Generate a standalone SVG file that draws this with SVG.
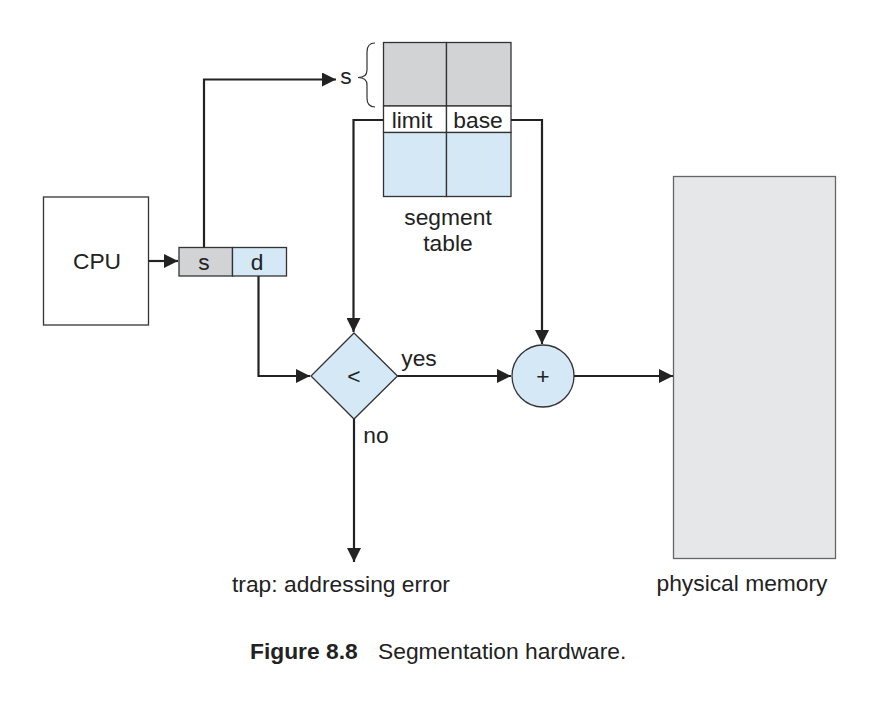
<svg xmlns="http://www.w3.org/2000/svg" width="884" height="708" viewBox="0 0 884 708">
<style>
text{font-family:"Liberation Sans",Arial,Helvetica,sans-serif;font-size:22.8px;fill:#222;text-anchor:middle}
.box{stroke:#333;stroke-width:1.3}
.line{fill:none;stroke:#222;stroke-width:2.2}
.gray{fill:#d1d3d4}
.blue{fill:#d4e8f6}
</style>
<defs>
<marker id="arr" viewBox="0 0 10 10" refX="10" refY="5" markerWidth="20" markerHeight="14" markerUnits="userSpaceOnUse" orient="auto">
<path d="M0,0 L10,5 L0,10 z" fill="#222"/>
</marker>
</defs>
<rect width="884" height="708" fill="#fff"/>
<g id="cpu">
<rect class="box" x="43.5" y="197" width="105" height="128" fill="#fff"/>
<text x="97" y="269">CPU</text>
</g>
<g id="address">
<rect class="box gray" x="179" y="247.5" width="53.5" height="28.5"/>
<rect class="box blue" x="232.5" y="247.5" width="54" height="28.5"/>
<text x="204" y="270">s</text>
<text x="257" y="270">d</text>
</g>
<g id="segment-table">
<rect class="box gray" x="383.5" y="42.5" width="63" height="63.5"/>
<rect class="box gray" x="446.5" y="42.5" width="64.5" height="63.5"/>
<rect class="box" x="383.5" y="106" width="63" height="26.5" fill="#fff"/>
<rect class="box" x="446.5" y="106" width="64.5" height="26.5" fill="#fff"/>
<rect class="box blue" x="383.5" y="132.5" width="63" height="64"/>
<rect class="box blue" x="446.5" y="132.5" width="64.5" height="64"/>
<text x="412" y="127.5">limit</text>
<text x="478" y="127.5">base</text>
<path d="M375,43 Q367,43 367,52 L367,70 Q367,77.5 358,77.5 Q367,77.5 367,85 L367,98 Q367,107 375,107" fill="none" stroke="#333" stroke-width="1.2"/>
<text x="346" y="84">s</text>
<text x="448" y="225">segment</text>
<text x="448" y="251">table</text>
</g>
<g id="compare">
<polygon class="box blue" points="354,333 397.5,376 354,419 311,376"/>
<text x="354" y="384">&lt;</text>
</g>
<g id="adder">
<circle class="box blue" cx="543" cy="376" r="31"/>
<text x="543" y="384">+</text>
</g>
<g id="memory">
<rect x="673.5" y="176.5" width="162" height="382" fill="#e6e7e8" stroke="#666" stroke-width="1.3"/>
<text x="742" y="591">physical memory</text>
</g>
<g id="connectors">
<path class="line" d="M148.5,261 L178,261" marker-end="url(#arr)"/>
<path class="line" d="M204,247 L204,79.5 L336,79.5" marker-end="url(#arr)"/>
<path class="line" d="M258.5,276 L258.5,376 L310,376" marker-end="url(#arr)"/>
<path class="line" d="M383,120 L353.5,120 L353.5,332" marker-end="url(#arr)"/>
<path class="line" d="M511,120 L542,120 L542,344" marker-end="url(#arr)"/>
<path class="line" d="M397.5,376 L511,376" marker-end="url(#arr)"/>
<path class="line" d="M574,376 L673,376" marker-end="url(#arr)"/>
<path class="line" d="M354,419 L354,562" marker-end="url(#arr)"/>
</g>
<g id="labels">
<text x="419" y="366">yes</text>
<text x="376" y="443">no</text>
<text x="341" y="592">trap: addressing error</text>
<text x="250" y="659" style="text-anchor:start"><tspan font-weight="bold">Figure 8.8</tspan><tspan x="378">Segmentation hardware.</tspan></text>
</g>
</svg>
